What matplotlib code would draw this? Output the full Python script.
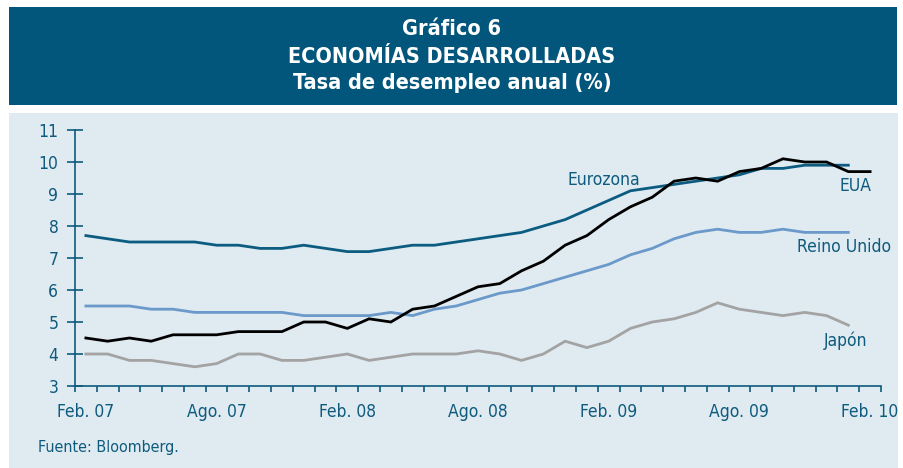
import matplotlib
matplotlib.use("Agg")
import matplotlib.pyplot as plt
from matplotlib.patches import Rectangle
import numpy as np

plt.rcParams['font.family'] = ['DejaVu Sans']
plt.rcParams['font.stretch'] = 'condensed'

tick_labels = ["Feb. 07", "Ago. 07", "Feb. 08", "Ago. 08", "Feb. 09", "Ago. 09", "Feb. 10"]
eua = [4.5, 4.4, 4.5, 4.4, 4.6, 4.6, 4.6, 4.7, 4.7, 4.7, 5.0, 5.0,
       4.8, 5.1, 5.0, 5.4, 5.5, 5.8, 6.1, 6.2, 6.6, 6.9, 7.4, 7.7,
       8.2, 8.6, 8.9, 9.4, 9.5, 9.4, 9.7, 9.8, 10.1, 10.0, 10.0, 9.7, 9.7]
eurozona = [7.7, 7.6, 7.5, 7.5, 7.5, 7.5, 7.4, 7.4, 7.3, 7.3, 7.4, 7.3,
            7.2, 7.2, 7.3, 7.4, 7.4, 7.5, 7.6, 7.7, 7.8, 8.0, 8.2, 8.5,
            8.8, 9.1, 9.2, 9.3, 9.4, 9.5, 9.6, 9.8, 9.8, 9.9, 9.9, 9.9]
reino_unido = [5.5, 5.5, 5.5, 5.4, 5.4, 5.3, 5.3, 5.3, 5.3, 5.3, 5.2, 5.2,
               5.2, 5.2, 5.3, 5.2, 5.4, 5.5, 5.7, 5.9, 6.0, 6.2, 6.4, 6.6,
               6.8, 7.1, 7.3, 7.6, 7.8, 7.9, 7.8, 7.8, 7.9, 7.8, 7.8, 7.8]
japon = [4.0, 4.0, 3.8, 3.8, 3.7, 3.6, 3.7, 4.0, 4.0, 3.8, 3.8, 3.9,
         4.0, 3.8, 3.9, 4.0, 4.0, 4.0, 4.1, 4.0, 3.8, 4.0, 4.4, 4.2,
         4.4, 4.8, 5.0, 5.1, 5.3, 5.6, 5.4, 5.3, 5.2, 5.3, 5.2, 4.9]

TEAL = "#0f5b7d"
BOX = "#03567b"
BG = "#dfeaf1"

W, H = 904, 468
fig = plt.figure(figsize=(W / 100, H / 100), dpi=100)
fig.patch.set_facecolor("white")

# title box and panel
fig.add_artist(Rectangle((9 / W, 1 - 105 / H), 888 / W, 98 / H, transform=fig.transFigure,
                         facecolor=BOX, edgecolor="none", zorder=0))
fig.add_artist(Rectangle((9 / W, 0), 889 / W, 1 - 112.5 / H, transform=fig.transFigure,
                         facecolor=BG, edgecolor="none", zorder=0))

for yy, s in [(35, "Gráfico 6"), (63, "ECONOMÍAS DESARROLLADAS"), (89, "Tasa de desempleo anual (%)")]:
    fig.text(0.5, 1 - yy / H, s, ha="center", va="baseline", color="white",
             fontsize=15.5, fontweight="bold")

ax = fig.add_axes([75 / W, (H - 386) / H, (881 - 75) / W, (386 - 130) / H])
ax.set_facecolor("none")

x_eua = np.arange(len(eua))
x_oth = np.arange(len(eurozona))
ax.plot(x_oth, japon, color="#a3a3a3", lw=2.0, solid_joinstyle="miter")
ax.plot(x_oth, reino_unido, color="#6b99c9", lw=2.0, solid_joinstyle="miter")
ax.plot(x_oth, eurozona, color="#0b5c80", lw=2.0, solid_joinstyle="miter")
ax.plot(x_eua, eua, color="black", lw=2.0, solid_joinstyle="miter")

ax.set_xlim(-0.5, 36.5)
ax.set_ylim(3, 11)

for s in ["top", "right"]:
    ax.spines[s].set_visible(False)
for s in ["left", "bottom"]:
    ax.spines[s].set_color(TEAL)
    ax.spines[s].set_linewidth(1.2)

ax.set_yticks(np.arange(3, 12, 1))
ax.tick_params(axis="y", direction="inout", length=12, width=1.2, color=TEAL,
               labelcolor=TEAL, labelsize=12.5, pad=6)

ax.set_xticks(np.arange(-0.5, 37, 1))
ax.set_xticklabels([])
ax.tick_params(axis="x", which="major", direction="out", length=4, width=1.2, color=TEAL)
ax.set_xticks(np.arange(0, 37, 6), minor=True)
ax.set_xticklabels(tick_labels, minor=True)
ax.tick_params(axis="x", which="minor", length=0, labelcolor=TEAL, labelsize=12.5, pad=12)

def lab(x, y, s):
    fig.text(x / W, 1 - y / H, s, ha="center", va="baseline", color=TEAL, fontsize=12.5)

lab(604, 185, "Eurozona")
lab(856, 191, "EUA")
lab(844, 252, "Reino Unido")
lab(846, 346, "Japón")

fig.text(38 / W, 1 - 452 / H, "Fuente: Bloomberg.", ha="left", va="baseline", color=TEAL, fontsize=11.5)

fig.savefig("out.png", dpi=100, facecolor=fig.get_facecolor())
